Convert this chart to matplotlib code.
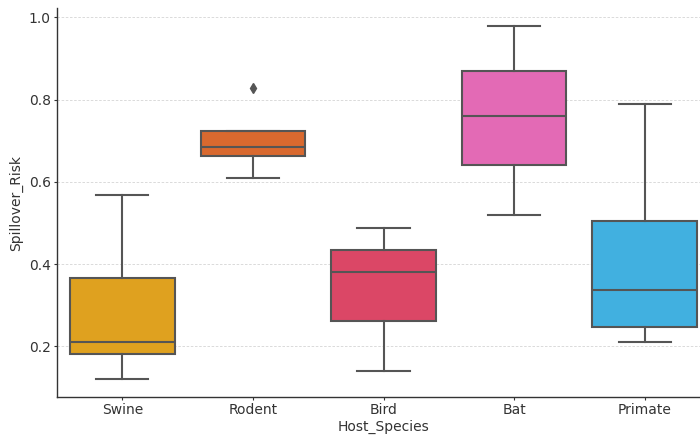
import matplotlib
matplotlib.use("Agg")
import matplotlib.pyplot as plt

# Summary statistics of spillover risk per host species
species = ["Swine", "Rodent", "Bird", "Bat", "Primate"]
whisker_low = [0.12, 0.61, 0.14, 0.52, 0.21]
q1 = [0.181, 0.663, 0.261, 0.641, 0.248]
median = [0.211, 0.686, 0.381, 0.760, 0.336]
q3 = [0.367, 0.725, 0.435, 0.869, 0.505]
whisker_high = [0.568, 0.725, 0.489, 0.980, 0.789]
outliers = [[], [0.829], [], [], []]
colors = ["#DFA11F", "#D9692F", "#DB4766", "#E36AB5", "#41B0E0"]

stats = []
for i, name in enumerate(species):
    stats.append(dict(label=name, whislo=whisker_low[i], q1=q1[i], med=median[i],
                      q3=q3[i], whishi=whisker_high[i], fliers=outliers[i]))

fig = plt.figure(figsize=(7, 4.36), dpi=100)
ax = fig.add_axes([57 / 700, 39 / 436, 653 / 700, 389 / 436])

line_c = "#555555"
bp = ax.bxp(stats, positions=range(len(species)), widths=0.8, patch_artist=True,
            boxprops=dict(edgecolor=line_c, linewidth=1.5),
            medianprops=dict(color=line_c, linewidth=1.5),
            whiskerprops=dict(color=line_c, linewidth=1.5),
            capprops=dict(color=line_c, linewidth=1.5),
            flierprops=dict(marker="d", markerfacecolor=line_c, markeredgecolor=line_c,
                            markersize=5),
            capwidths=0.4, zorder=3)
for patch, c in zip(bp["boxes"], colors):
    patch.set_facecolor(c)

ax.set_xlim(-0.5, len(species) - 0.5)
ax.set_ylim(0.077, 1.023)
ax.set_yticks([0.2, 0.4, 0.6, 0.8, 1.0])
ax.set_xticks(range(len(species)))
ax.set_xticklabels(species)
ax.yaxis.grid(True, linestyle=(0, (3, 2)), color="#d4d4d4", linewidth=0.6, zorder=0)
ax.set_axisbelow(True)
for s in ["top", "right"]:
    ax.spines[s].set_visible(False)
for s in ["left", "bottom"]:
    ax.spines[s].set_color("#333333")
    ax.spines[s].set_linewidth(1.0)
ax.tick_params(labelsize=10, colors="#333333", length=2.5, width=0.8, pad=2)
ax.set_xlabel("Host_Species", fontsize=10, color="#333333", labelpad=2)
ax.set_ylabel("Spillover_Risk", fontsize=10, color="#333333", labelpad=4)

fig.savefig("out.png", dpi=100)
